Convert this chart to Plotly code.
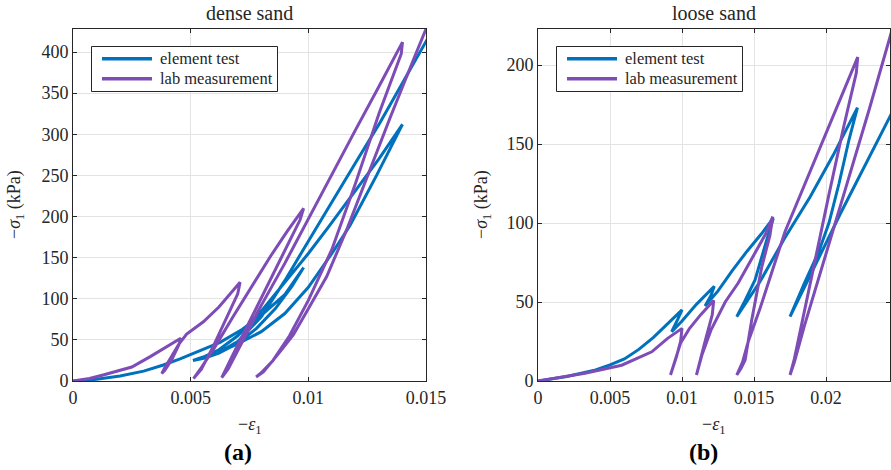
import plotly.graph_objects as go

# ---------------- data ----------------
# dense sand, element test (strain -eps1, stress -sigma1 in kPa)
dense_elem_eps = [0, 0.001, 0.002, 0.003, 0.00384, 0.00455, 0.0054, 0.00625, 0.0072, 0.008, 0.009, 0.0098,
                  0.0093, 0.0086, 0.0078, 0.0070, 0.0062, 0.0056, 0.0051,
                  0.0056, 0.0062, 0.007, 0.008, 0.009, 0.010, 0.0109, 0.012, 0.013, 0.0140,
                  0.0135, 0.0129, 0.01177, 0.0110, 0.0100, 0.009, 0.008, 0.007, 0.0062,
                  0.007, 0.008, 0.009, 0.010, 0.011, 0.012, 0.013, 0.014, 0.015, 0.0153]
dense_elem_sig = [0, 2, 6, 12, 19.5, 27, 37, 47, 63, 80, 105, 138,
                  115, 88, 64, 46, 34, 28, 25,
                  30, 38, 55, 85, 120, 155, 189, 232, 270, 312,
                  283, 250, 189, 155, 114, 82, 60, 45, 35,
                  48, 78, 122, 170, 218, 265, 312, 362, 413, 428]

# dense sand, lab measurement
dense_lab_eps = [0, 0.0007, 0.00128, 0.0025, 0.0033, 0.0040, 0.00458,
                 0.0045, 0.0042, 0.0039, 0.00377,
                 0.0039, 0.0042, 0.0045, 0.00483, 0.00554, 0.0062, 0.0067, 0.0071,
                 0.0070, 0.00653, 0.00596, 0.00545, 0.0052, 0.00512,
                 0.0054, 0.0060, 0.0068, 0.0076, 0.0084, 0.0091, 0.0098,
                 0.00965, 0.0090, 0.0083, 0.0076, 0.0069, 0.0065, 0.00632,
                 0.0066, 0.0072, 0.0080, 0.0090, 0.00986, 0.0110, 0.0120, 0.0130, 0.0140,
                 0.01395, 0.0130, 0.0120, 0.0110, 0.0100, 0.0092, 0.0085, 0.0080, 0.00778,
                 0.00809, 0.0087, 0.00936, 0.0100, 0.01078, 0.01163, 0.0125, 0.0135, 0.0145, 0.0150, 0.0152]
dense_lab_sig = [0, 3, 7.3, 17, 30, 42, 52,
                 44, 26, 13, 9,
                 16, 30, 45, 57, 72, 90, 106, 120,
                 106, 78, 42, 14, 5, 3,
                 14, 40, 78, 115, 152, 182, 210,
                 196, 158, 118, 78, 38, 14, 4,
                 15, 48, 92, 143, 190, 252, 305, 358, 412,
                 398, 325, 240, 160, 98, 55, 25, 10, 5,
                 11, 32, 56, 88, 127, 184, 248, 322, 393, 428, 442]

# loose sand, element test
loose_elem_eps = [0, 0.002, 0.004, 0.005, 0.006, 0.007, 0.008, 0.009, 0.0100,
                  0.0097, 0.00928,
                  0.0100, 0.0110, 0.01224,
                  0.0120, 0.0116,
                  0.0125, 0.0135, 0.0145, 0.0155, 0.01634,
                  0.0160, 0.01507, 0.01438, 0.0138,
                  0.01542, 0.0171, 0.0189, 0.0205, 0.02218,
                  0.0216, 0.0209, 0.0202, 0.0195, 0.0185, 0.0175,
                  0.0185, 0.01993, 0.021, 0.0225, 0.02444, 0.0247]
loose_elem_sig = [0, 2.8, 7, 10.2, 14, 20, 27.5, 36, 45,
                  39, 31.2,
                  38, 48.5, 60,
                  54, 47.5,
                  57, 70, 82, 93, 103,
                  93, 64, 51, 40.7,
                  63, 90, 116.6, 143, 173,
                  153, 125, 100, 82, 62, 40.7,
                  59, 86, 106, 133, 168, 172]

# loose sand, lab measurement
loose_lab_eps = [0, 0.00326, 0.00581, 0.0079, 0.009, 0.0100,
                 0.0099, 0.0096, 0.0092,
                 0.0095, 0.0099, 0.0105, 0.0113, 0.0122,
                 0.0121, 0.0116, 0.0112, 0.0110,
                 0.0114, 0.0120, 0.0130, 0.0139, 0.0150, 0.0158, 0.0163,
                 0.0161, 0.01553, 0.01484, 0.01438, 0.0141, 0.0138,
                 0.0142, 0.0146, 0.01542, 0.01715, 0.0195, 0.0222,
                 0.0221, 0.0212, 0.0202, 0.0192, 0.0183, 0.0178, 0.0175,
                 0.0178, 0.0185, 0.0195, 0.0210, 0.0230, 0.0247]
loose_lab_sig = [0, 4.9, 10, 18.5, 27, 33.3,
                 25, 15, 3.8,
                 12, 24, 33, 42, 51,
                 42, 25, 10, 3.8,
                 17, 32, 50, 62, 80, 93, 104,
                 92, 72, 38.6, 13.3, 8, 3.8,
                 12, 25, 46, 94.5, 146, 205,
                 195, 160, 118, 75, 35, 14, 3.8,
                 12, 35, 66, 111, 172, 226]

dense_xticks = [0, 0.005, 0.01, 0.015]
dense_xticklabels = ["0", "0.005", "0.01", "0.015"]
dense_yticks = [0, 50, 100, 150, 200, 250, 300, 350, 400]
loose_xticks = [0, 0.005, 0.01, 0.015, 0.02]
loose_xticklabels = ["0", "0.005", "0.01", "0.015", "0.02"]
loose_yticks = [0, 50, 100, 150, 200]

series_names = ["element test", "lab measurement"]
panel_titles = ["dense sand", "loose sand"]
panel_tags = ["(a)", "(b)"]

# ---------------- styling ----------------
W, H = 891, 470
BLUE = "#0072BD"
PURPLE = "#7D4CB6"
AX = "#262626"
GRID = "#E3E3E3"
FONT = "'Liberation Serif', 'Times New Roman', 'DejaVu Serif', serif"
COLORS = [BLUE, PURPLE]

def px_x(p):
    return p / W

def px_y(p):
    return 1 - p / H

fig = go.Figure()

fig.add_trace(go.Scatter(x=dense_elem_eps, y=dense_elem_sig, mode="lines", name=series_names[0],
                         line=dict(color=BLUE, width=3), xaxis="x", yaxis="y"))
fig.add_trace(go.Scatter(x=dense_lab_eps, y=dense_lab_sig, mode="lines", name=series_names[1],
                         line=dict(color=PURPLE, width=3), xaxis="x", yaxis="y"))
fig.add_trace(go.Scatter(x=loose_elem_eps, y=loose_elem_sig, mode="lines", name=series_names[0],
                         line=dict(color=BLUE, width=3), xaxis="x2", yaxis="y2"))
fig.add_trace(go.Scatter(x=loose_lab_eps, y=loose_lab_sig, mode="lines", name=series_names[1],
                         line=dict(color=PURPLE, width=3), xaxis="x2", yaxis="y2"))

ydom = [px_y(381), px_y(29)]
common_axis = dict(showline=True, linecolor=AX, linewidth=1, mirror="ticks", ticks="inside",
                   ticklen=4, tickcolor=AX, showgrid=True, gridcolor=GRID, gridwidth=1,
                   zeroline=False, automargin=False, tickfont=dict(family=FONT, size=18, color=AX))

fig.update_layout(
    template="none",
    width=W, height=H,
    margin=dict(l=0, r=0, t=0, b=0, autoexpand=False),
    paper_bgcolor="white", plot_bgcolor="white",
    font=dict(family=FONT, color=AX),
    showlegend=False,
    xaxis=dict(domain=[px_x(73), px_x(426)], range=[0, 0.015], tickvals=dense_xticks,
               ticktext=dense_xticklabels, anchor="y", **common_axis),
    yaxis=dict(domain=ydom, range=[0, 428], tickvals=dense_yticks, anchor="x", **common_axis),
    xaxis2=dict(domain=[px_x(538), px_x(890)], range=[0, 0.02444], tickvals=loose_xticks,
                ticktext=loose_xticklabels, anchor="y2", **common_axis),
    yaxis2=dict(domain=ydom, range=[0, 222.8], tickvals=loose_yticks, anchor="x2", **common_axis),
)

annos = []
shapes = []
centers = [249.5, 714]
tag_centers = [238, 703]
ylab_x = [15, 482]
legend_left = [91.5, 556.5]
for i in range(2):
    annos.append(dict(text=panel_titles[i], x=px_x(centers[i]), y=px_y(13), xref="paper", yref="paper",
                      showarrow=False, font=dict(family=FONT, size=20, color=AX), xanchor="center", yanchor="middle"))
    annos.append(dict(text="−<i>ε</i><sub>1</sub>", x=px_x(centers[i]), y=px_y(425), xref="paper", yref="paper",
                      showarrow=False, font=dict(family=FONT, size=18, color=AX), xanchor="center", yanchor="middle"))
    annos.append(dict(text="−<i>σ</i><sub>1</sub> (kPa)", x=px_x(ylab_x[i]), y=px_y(205), xref="paper", yref="paper",
                      showarrow=False, textangle=-90, font=dict(family=FONT, size=18, color=AX),
                      xanchor="center", yanchor="middle"))
    annos.append(dict(text="<b>" + panel_tags[i] + "</b>", x=px_x(tag_centers[i]), y=px_y(452), xref="paper", yref="paper",
                      showarrow=False, font=dict(family=FONT, size=24, color="black"), xanchor="center", yanchor="middle"))
    # legend box
    L = legend_left[i]
    shapes.append(dict(type="rect", xref="paper", yref="paper", x0=px_x(L), x1=px_x(L + 186),
                       y0=px_y(91.5), y1=px_y(46.5), line=dict(color=AX, width=1), fillcolor="white", layer="above"))
    for j, name in enumerate(series_names):
        yy = 58.7 + 20 * j
        shapes.append(dict(type="line", xref="paper", yref="paper", x0=px_x(L + 10.5), x1=px_x(L + 60.5),
                           y0=px_y(yy), y1=px_y(yy), line=dict(color=COLORS[j], width=3.5), layer="above"))
        annos.append(dict(text=name, x=px_x(L + 66), y=px_y(yy), xref="paper", yref="paper", showarrow=False,
                          font=dict(family=FONT, size=16.5, color=AX), xanchor="left", yanchor="middle"))
fig.update_layout(annotations=annos, shapes=shapes)

fig.write_html("out.html")
